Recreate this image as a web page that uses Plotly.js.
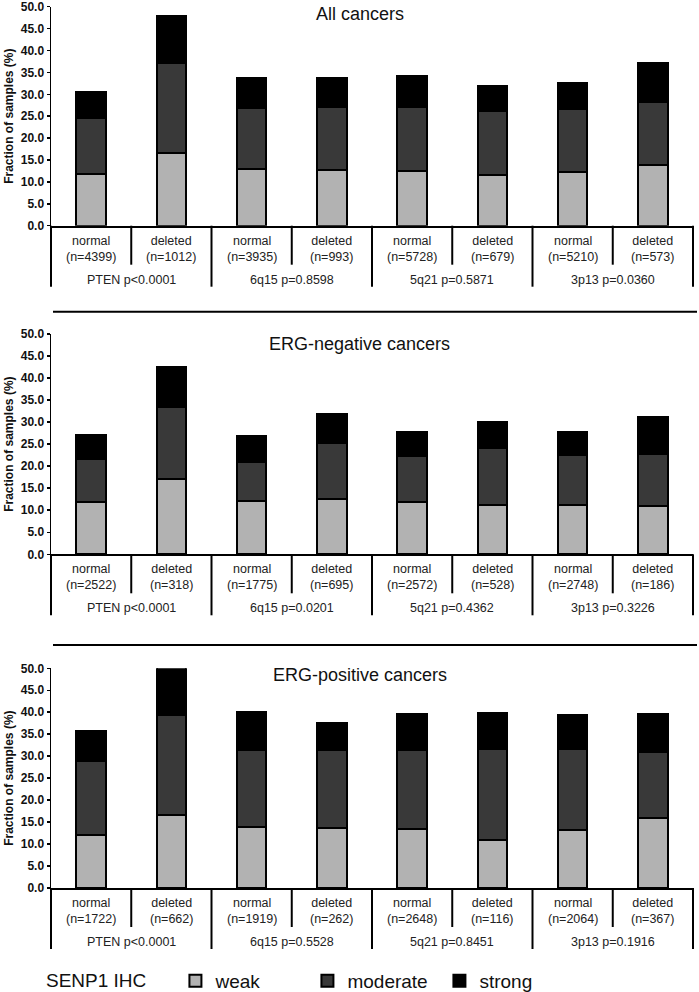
<!DOCTYPE html>
<html><head><meta charset="utf-8">
<script src="https://cdn.plot.ly/plotly-3.0.1.min.js"></script>
<style>body{margin:0;background:#fff}</style>
</head><body><div id="chart" style="width:699px;height:992px"></div>
<script>
// ---- data ----
var groups = ['PTEN', '6q15', '5q21', '3p13'];
var statuses = ['normal', 'deleted'];
var panelTitles = ['All cancers', 'ERG-negative cancers', 'ERG-positive cancers'];
var levels = ['weak', 'moderate', 'strong'];

var pAll = ['p<0.0001', 'p=0.8598', 'p=0.5871', 'p=0.0360'];
var pNeg = ['p<0.0001', 'p=0.0201', 'p=0.4362', 'p=0.3226'];
var pPos = ['p<0.0001', 'p=0.5528', 'p=0.8451', 'p=0.1916'];

var nAll = [4399, 1012, 3935, 993, 5728, 679, 5210, 573];
var nNeg = [2522, 318, 1775, 695, 2572, 528, 2748, 186];
var nPos = [1722, 662, 1919, 262, 2648, 116, 2064, 367];

var weakAll = [11.9, 16.7, 13.0, 12.8, 12.6, 11.6, 12.2, 13.9];
var moderateAll = [12.7, 20.5, 13.9, 14.4, 14.6, 14.5, 14.5, 14.3];
var strongAll = [5.9, 10.6, 6.9, 6.6, 6.9, 5.9, 5.9, 9.0];

var weakNeg = [11.9, 17.2, 12.1, 12.6, 11.8, 11.2, 11.2, 10.9];
var moderateNeg = [9.8, 16.2, 8.9, 12.7, 10.4, 13.0, 11.3, 11.9];
var strongNeg = [5.4, 9.0, 5.8, 6.6, 5.6, 5.9, 5.3, 8.3];

var weakPos = [12.1, 16.5, 13.8, 13.7, 13.4, 10.9, 13.1, 15.9];
var moderatePos = [16.7, 22.8, 17.6, 17.8, 18.1, 20.8, 18.6, 15.1];
var strongPos = [7.0, 11.1, 8.7, 6.1, 8.0, 8.2, 7.6, 8.6];

// ---- build ----
var panels = [
  {title: panelTitles[0], p: pAll, n: nAll, vals: [weakAll, moderateAll, strongAll]},
  {title: panelTitles[1], p: pNeg, n: nNeg, vals: [weakNeg, moderateNeg, strongNeg]},
  {title: panelTitles[2], p: pPos, n: nPos, vals: [weakPos, moderatePos, strongPos]}
];
var colors = ['#b2b2b2', '#393939', '#000000'];

var H = 992, W = 699, ML = 51, MR = 6;
var PW = W - ML - MR;
function py(p) { return 1 - p / H; }
function px(p) { return (p - ML) / PW; }
var axisPix = [225.7, 554.3, 888];
var topPix = [6.7, 334, 668.3];
var titlePix = [14, 344, 675];

var cats = [];
groups.forEach(function (g) { statuses.forEach(function (s) { cats.push(g + ' ' + s); }); });

var font = 'Liberation Sans, Arial, sans-serif';
var traces = [], annotations = [], shapes = [];
var layout = {
  width: W, height: H,
  margin: {l: ML, r: MR, t: 0, b: 0, autoexpand: false},
  paper_bgcolor: '#fff', plot_bgcolor: '#fff',
  barmode: 'stack', bargap: 0.62,
  font: {family: font, color: '#000'},
  showlegend: true,
  legend: {
    orientation: 'h', xref: 'container', yref: 'container',
    x: 44 / W, xanchor: 'left', y: 1 - 981 / H, yanchor: 'middle',
    font: {size: 19, family: font, color: '#111'},
    title: {text: 'SENP1 IHC\u00A0\u00A0\u00A0\u00A0', side: 'left', font: {size: 19, family: font, color: '#111'}},
    entrywidth: 87, entrywidthmode: 'pixels', traceorder: 'normal',
    bgcolor: 'rgba(0,0,0,0)'
  }
};

panels.forEach(function (pan, k) {
  var sfx = k === 0 ? '' : String(k + 1);
  var xa = 'x' + sfx, ya = 'y' + sfx;
  levels.forEach(function (lv, j) {
    traces.push({
      type: 'bar', x: cats, y: pan.vals[j], name: lv,
      xaxis: xa, yaxis: ya, width: 0.37,
      marker: {color: colors[j], line: {color: '#000', width: 2}},
      showlegend: k === 0, legendgroup: lv, cliponaxis: false,
      hoverinfo: 'y'
    });
  });
  layout['xaxis' + sfx] = {
    domain: [0, 1], anchor: ya, type: 'category', range: [-0.5, 7.5],
    showline: true, linecolor: '#000', linewidth: 2,
    showticklabels: false, ticks: '', showgrid: false, zeroline: false, fixedrange: true
  };
  layout['yaxis' + sfx] = {
    domain: [py(axisPix[k]), py(topPix[k])], anchor: xa,
    range: [0, 50], dtick: 5, tickformat: '.1f', ticklabeloverflow: 'allow',
    showline: true, linecolor: '#000', linewidth: 1.5,
    ticks: 'outside', ticklen: 3, tickwidth: 1.5, tickcolor: '#000',
    tickfont: {size: 12, family: font, weight: 'bold', color: '#111'},
    showgrid: false, zeroline: false, fixedrange: true,
    title: {text: 'Fraction of samples (%)', font: {size: 12, family: font, weight: 'bold', color: '#111'}, standoff: 4}
  };
  // panel title
  annotations.push({
    xref: 'paper', yref: 'paper', x: px(359.5), y: py(titlePix[k]),
    text: pan.title, showarrow: false, xanchor: 'center', yanchor: 'middle',
    font: {size: 18, family: font, color: '#111'}
  });
  // category labels
  cats.forEach(function (c, i) {
    annotations.push({
      xref: xa, yref: 'paper', x: c, y: py(axisPix[k] + 23),
      text: statuses[i % 2] + '<br>(n=' + pan.n[i] + ')', showarrow: false,
      xanchor: 'center', yanchor: 'middle',
      font: {size: 12.5, family: font, color: '#222'}
    });
  });
  // group labels
  groups.forEach(function (g, gi) {
    annotations.push({
      xref: 'paper', yref: 'paper', x: (2 * gi + 1) / 8, y: py(axisPix[k] + 54),
      text: g + ' ' + pan.p[gi], showarrow: false, xanchor: 'center', yanchor: 'middle',
      font: {size: 12.5, family: font, color: '#222'}
    });
  });
  // dividers
  for (var b = 0; b <= cats.length; b++) {
    var len = (b % 2 === 0) ? 61 : 39;
    shapes.push({
      type: 'line', xref: 'paper', yref: 'paper',
      x0: b / cats.length, x1: b / cats.length,
      y0: py(axisPix[k]), y1: py(axisPix[k] + len),
      line: {color: '#000', width: 2}
    });
  }
});
// horizontal panel separators
[311.7, 645].forEach(function (yy) {
  shapes.push({type: 'line', xref: 'paper', yref: 'paper', x0: px(53), x1: px(697),
    y0: py(yy), y1: py(yy), line: {color: '#000', width: 2}});
});
layout.annotations = annotations;
layout.shapes = shapes;

Plotly.newPlot('chart', traces, layout, {displayModeBar: false, staticPlot: true});
</script></body></html>
